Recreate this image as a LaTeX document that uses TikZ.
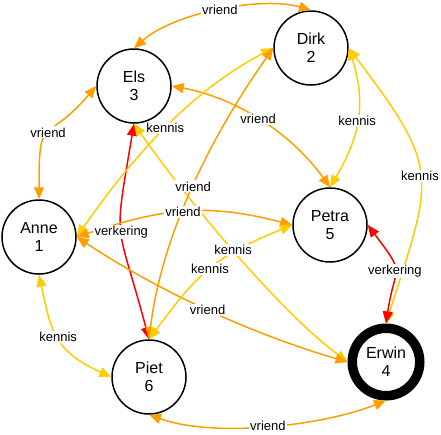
\documentclass[tikz,border=0pt]{standalone}
\usepackage{fontspec}
\setmainfont{Liberation Sans}
\usetikzlibrary{arrows.meta}

\definecolor{vriendoranje}{RGB}{255,158,0}
\definecolor{kennisgeel}{RGB}{255,204,0}
\definecolor{verkeringrood}{RGB}{255,0,0}

\tikzset{
  persoon/.style={circle, draw, fill=white, line width=1.5pt, minimum size=74pt,
    inner sep=0pt, align=center, font=\fontsize{16}{18}\selectfont},
  relatie/.style={<->, line width=1.5pt},
  vriend/.style={relatie, draw=vriendoranje},
  kennis/.style={relatie, draw=kennisgeel},
  verkering/.style={relatie, draw=verkeringrood},
  lbl/.style={fill=white, inner sep=1.2pt, font=\fontsize{13}{15}\selectfont}
}

\begin{document}
\begin{tikzpicture}[x=1pt, y=-1pt, >={Triangle[length=12pt,width=10pt]}]
    \useasboundingbox (0,0) rectangle (441,434);

    % personen
    \node[persoon] (anne) at (39,237) {Anne\\1};
    \node[persoon] (dirk) at (311,48) {Dirk\\2};
    \node[persoon] (els) at (134,86) {Els\\3};
    \node[persoon, line width=9.5pt, minimum size=67.5pt] (erwin) at (386,362) {Erwin\\4};
    \node[persoon] (petra) at (330,225) {Petra\\5};
    \node[persoon] (piet) at (149,377) {Piet\\6};

    % relaties
    \draw[vriend] (els.north) .. controls (175,12) and (263,-4) .. (dirk.north) coordinate[pos=.5] (r1);
    \draw[vriend] (els.west) .. controls (44,147) and (39,111) .. (anne.north) coordinate[pos=.5] (r2);
    \draw[vriend] (els.east) .. controls (232,97) and (289,130) .. (petra.north) coordinate[pos=.5] (r3);
    \draw[verkering] (els.south) .. controls (113,249) and (116,215) .. (piet.north) coordinate[pos=.5] (r4);
    \draw[kennis] (els.south) .. controls (185,197) and (276,308) .. (erwin.west) coordinate[pos=.5] (r5);
    \draw[kennis] (dirk.west) .. controls (191,91) and (133,156) .. (anne.east) coordinate[pos=.5] (r6);
    \draw[vriend] (dirk.west) .. controls (212,135) and (162,233) .. (piet.north) coordinate[pos=.5] (r7);
    \draw[kennis] (dirk.east) .. controls (367,105) and (359,138) .. (petra.north) coordinate[pos=.5] (r8);
    \draw[kennis] (dirk.east) .. controls (442,171) and (433,175) .. (erwin.north) coordinate[pos=.5] (r9);
    \draw[vriend] (anne.east) .. controls (161,209) and (204,202) .. (petra.west) coordinate[pos=.5] (r10);
    \draw[vriend] (anne.east) .. controls (160,292) and (252,334) .. (erwin.west) coordinate[pos=.5] (r11);
    \draw[kennis] (anne.south) .. controls (51,331) and (54,351) .. (piet.west) coordinate[pos=.5] (r12);
    \draw[kennis] (piet.north) .. controls (199,272) and (214,257) .. (petra.west) coordinate[pos=.5] (r13);
    \draw[vriend] (piet.south) .. controls (214,438) and (322,426) .. (erwin.south) coordinate[pos=.5] (r14);
    \draw[verkering] (petra.east) .. controls (407,277) and (395,263) .. (erwin.north) coordinate[pos=.5] (r15);

    % labels
    \node[lbl] at (r1) {vriend};
    \node[lbl] at (r2) {vriend};
    \node[lbl] at (r3) {vriend};
    \node[lbl] at (r4) {verkering};
    \node[lbl] at (r5) {kennis};
    \node[lbl] at (r6) {kennis};
    \node[lbl] at (r7) {vriend};
    \node[lbl] at (r8) {kennis};
    \node[lbl] at (r9) {kennis};
    \node[lbl] at (r10) {vriend};
    \node[lbl] at (r11) {vriend};
    \node[lbl] at (r12) {kennis};
    \node[lbl] at (r13) {kennis};
    \node[lbl] at (r14) {vriend};
    \node[lbl] at (r15) {verkering};
\end{tikzpicture}
\end{document}
